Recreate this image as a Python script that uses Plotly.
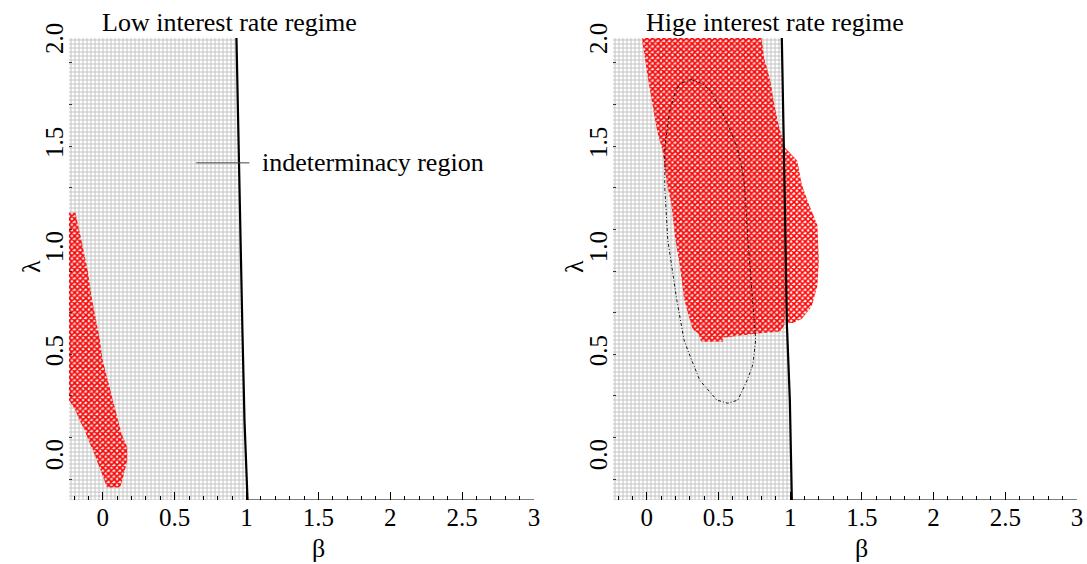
import plotly.graph_objects as go

FONT = "Liberation Serif, Times New Roman, serif"

# ---- axes ----
beta_min, beta_max = -0.235, 3.0
lam_min, lam_max = -0.2, 2.02
x_ticks = [0, 0.5, 1, 1.5, 2, 2.5, 3]
x_ticktext = ["0", "0.5", "1", "1.5", "2", "2.5", "3"]
y_ticks = [0.0, 0.5, 1.0, 1.5, 2.0]
y_ticktext = ["0.0", "0.5", "1.0", "1.5", "2.0"]

titles = ["Low interest rate regime", "Hige interest rate regime"]

# ---- boundary of the indeterminacy region (β where the region ends, per λ) ----
low_bnd_lam = [2.02, 1.51, 1.05, 0.60, 0.18, -0.10, -0.20]
low_bnd_beta = [0.930, 0.944, 0.958, 0.972, 0.986, 1.000, 1.007]
high_bnd_lam = [2.02, 1.50, 1.24, 0.65, 0.28, -0.20]
high_bnd_beta = [0.942, 0.953, 0.963, 0.977, 0.998, 1.012]

# ---- red regions ----
low_red_beta = [-0.235, -0.19, -0.146, -0.104, -0.076, -0.042, -0.02, 0.0, 0.035, 0.07,
                0.10, 0.13, 0.17, 0.17, 0.14, 0.12, 0.03, -0.007, -0.04, -0.07,
                -0.10, -0.125, -0.16, -0.19, -0.235]
low_red_lam = [1.18, 1.18, 1.04, 0.90, 0.77, 0.65, 0.57, 0.47, 0.375, 0.28,
               0.20, 0.12, 0.053, -0.01, -0.096, -0.14, -0.14, -0.07, -0.01, 0.04,
               0.087, 0.135, 0.18, 0.23, 0.28]

high_red_beta = [-0.03, 0.80, 0.82, 0.86, 0.89, 0.92, 0.955, 0.96, 0.965, 0.97,
                 0.96, 0.93, 0.77, 0.53, 0.53, 0.38, 0.36, 0.32, 0.29, 0.26,
                 0.23, 0.20, 0.17, 0.14, 0.11, 0.07, 0.01, -0.03]
high_red_lam = [2.02, 2.02, 1.92, 1.82, 1.70, 1.60, 1.52, 1.30, 1.00, 0.75,
                0.64, 0.61, 0.60, 0.58, 0.56, 0.56, 0.60, 0.62, 0.69, 0.77,
                0.93, 1.05, 1.23, 1.32, 1.48, 1.58, 1.82, 2.00]

outer_red_beta = [0.955, 1.05, 1.08, 1.12, 1.19, 1.20, 1.19, 1.15, 1.08, 1.02, 0.97, 0.965, 0.955]
outer_red_lam = [1.50, 1.43, 1.32, 1.24, 1.12, 0.95, 0.83, 0.73, 0.67, 0.65, 0.65, 1.00, 1.50]

# ---- dashed ellipse (right panel) ----
ell_beta = [0.31, 0.39, 0.45, 0.51, 0.58, 0.628, 0.663, 0.684, 0.705, 0.74, 0.76, 0.74,
            0.70, 0.635, 0.565, 0.49, 0.37, 0.286, 0.26, 0.21, 0.147, 0.126, 0.126,
            0.133, 0.16, 0.195, 0.23, 0.31]
ell_lam = [1.82, 1.80, 1.76, 1.69, 1.58, 1.50, 1.40, 1.30, 1.05, 0.76, 0.57, 0.45,
           0.375, 0.28, 0.265, 0.28, 0.375, 0.52, 0.57, 0.76, 1.05, 1.30, 1.48,
           1.53, 1.67, 1.75, 1.80, 1.82]

GREY_PAT = dict(shape="+", size=4, solidity=0.42, fgcolor="#c0c0c0", bgcolor="white")
RED_PAT = dict(shape="x", size=4, solidity=0.65, fgcolor="#ff0000", bgcolor="rgba(0,0,0,0)")

fig = go.Figure()


def add_panel(col, bnd_beta, bnd_lam, reds):
    xa = "x" if col == 1 else "x2"
    ya = "y" if col == 1 else "y2"
    gx = [beta_min, beta_min] + bnd_beta + [beta_min]
    gy = [lam_min, lam_max] + bnd_lam + [lam_min]
    fig.add_trace(go.Scatter(x=gx, y=gy, mode="lines", fill="toself", fillcolor="white",
                             line=dict(width=0), fillpattern=GREY_PAT,
                             xaxis=xa, yaxis=ya, hoverinfo="skip", showlegend=False))
    for rb, rl in reds:
        fig.add_trace(go.Scatter(x=rb, y=rl, mode="lines", fill="toself",
                                 fillcolor="rgba(0,0,0,0)",
                                 line=dict(width=0), fillpattern=RED_PAT,
                                 xaxis=xa, yaxis=ya, hoverinfo="skip", showlegend=False))
    fig.add_trace(go.Scatter(x=bnd_beta, y=bnd_lam, mode="lines",
                             line=dict(color="black", width=2.2),
                             xaxis=xa, yaxis=ya, hoverinfo="skip", showlegend=False))
    # visible part of the β axis line
    fig.add_trace(go.Scatter(x=[bnd_beta[-1], beta_max], y=[lam_min, lam_min], mode="lines",
                             line=dict(color="black", width=1.2), cliponaxis=False,
                             xaxis=xa, yaxis=ya, hoverinfo="skip", showlegend=False))


add_panel(1, low_bnd_beta, low_bnd_lam, [(low_red_beta, low_red_lam)])
add_panel(2, high_bnd_beta, high_bnd_lam,
          [(high_red_beta, high_red_lam), (outer_red_beta, outer_red_lam)])

fig.add_trace(go.Scatter(x=ell_beta, y=ell_lam, mode="lines",
                         line=dict(color="black", width=0.9, dash="3px,2px,1px,2px"),
                         xaxis="x2", yaxis="y2", hoverinfo="skip", showlegend=False))

# annotation line for "indeterminacy region"
fig.add_trace(go.Scatter(x=[0.65, 1.02], y=[1.42, 1.42], mode="lines",
                         line=dict(color="#444444", width=1),
                         xaxis="x", yaxis="y", hoverinfo="skip", showlegend=False))

xdom = [[69 / 1087, 534 / 1087], [613 / 1087, 1077 / 1087]]
ydom = [64 / 564, 526 / 564]

tickfont = dict(family=FONT, size=25, color="black")
for i in (1, 2):
    sfx = "" if i == 1 else str(i)
    fig.layout["xaxis" + sfx] = dict(
        domain=xdom[i - 1], range=[beta_min, beta_max], tickmode="array",
        tickvals=x_ticks, ticktext=x_ticktext, ticks="inside", ticklen=8,
        tickcolor="black", tickwidth=1, showline=False, showgrid=False, zeroline=False,
        tickfont=tickfont, anchor="y" + sfx, automargin=False,
        minor=dict(tickmode="linear", tick0=0, dtick=0.1, ticks="inside", ticklen=4,
                   tickcolor="black", tickwidth=1, showgrid=False),
    )
    fig.layout["yaxis" + sfx] = dict(
        domain=ydom, range=[lam_min, lam_max], tickmode="array",
        tickvals=y_ticks, ticktext=y_ticktext, tickangle=-90, ticks="",
        showline=False, showgrid=False, zeroline=False, tickfont=tickfont,
        anchor="x" + sfx, automargin=False,
        minor=dict(tickmode="linear", tick0=0.1, dtick=0.2, ticks="inside", ticklen=3,
                   tickcolor="#333333", tickwidth=1, showgrid=False),
    )

anns = []
for i, xl in ((0, 100), (1, 644)):
    anns.append(dict(text=titles[i], x=xl / 1087, y=(564 - 22) / 564, xref="paper", yref="paper",
                     xanchor="left", yanchor="middle", showarrow=False,
                     font=dict(family=FONT, size=26, color="black")))
for xr in ("x", "x2"):
    anns.append(dict(text="β", x=1.5, y=(564 - 548) / 564, xref=xr, yref="paper",
                     xanchor="center", yanchor="middle", showarrow=False,
                     font=dict(family=FONT, size=26, color="black")))
for yr, lx in (("y", 32), ("y2", 575)):
    anns.append(dict(text="λ", x=lx / 1087, y=0.92, xref="paper", yref=yr, textangle=-90,
                     xanchor="center", yanchor="middle", showarrow=False,
                     font=dict(family=FONT, size=26, color="black")))
anns.append(dict(text="indeterminacy region", x=1.097, y=1.42, xref="x", yref="y",
                 xanchor="left", yanchor="middle", showarrow=False,
                 font=dict(family=FONT, size=26, color="black")))

fig.update_layout(template="none", width=1087, height=564,
                  margin=dict(l=0, r=0, t=0, b=0, autoexpand=False),
                  paper_bgcolor="white", plot_bgcolor="white", annotations=anns,
                  showlegend=False)

fig.write_html("out.html", config={"displayModeBar": False},
               post_script="document.body.style.margin='0';document.body.style.overflow='hidden';")
